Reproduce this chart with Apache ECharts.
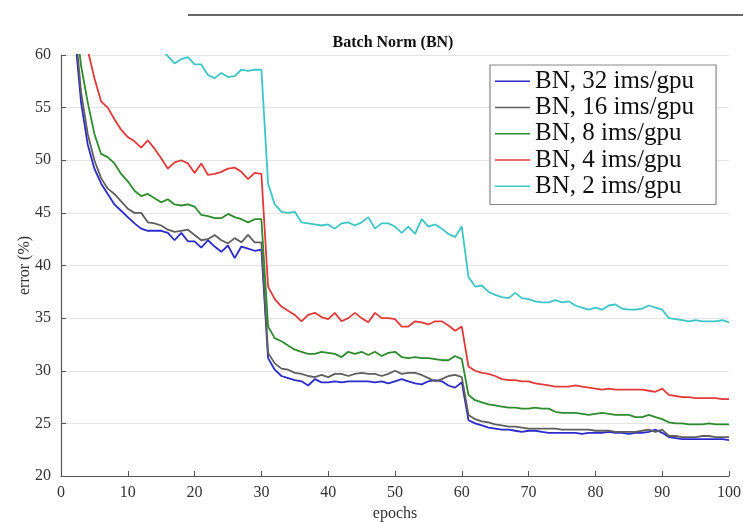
<!DOCTYPE html>
<html>
<head>
<meta charset="utf-8">
<script src="https://cdn.jsdelivr.net/npm/echarts@6/dist/echarts.min.js"></script>
<style>html,body{margin:0;padding:0;background:#fff}#c{width:743px;height:522px}</style>
</head>
<body>
<div id="c"></div>
<script>
var epochs = [1,2,3,4,5,6,7,8,9,10,11,12,13,14,15,16,17,18,19,20,21,22,23,24,25,26,27,28,29,30,
31,32,33,34,35,36,37,38,39,40,41,42,43,44,45,46,47,48,49,50,51,52,53,54,55,56,57,58,59,60,
61,62,63,64,65,66,67,68,69,70,71,72,73,74,75,76,77,78,79,80,81,82,83,84,85,86,87,88,89,90,
91,92,93,94,95,96,97,98,99,100];

var seriesNames = ['BN, 32 ims/gpu','BN, 16 ims/gpu','BN, 8 ims/gpu','BN, 4 ims/gpu','BN, 2 ims/gpu'];

var bn32 = [75,62.5,55.5,51.5,49.2,47.8,46.8,45.8,45.2,44.6, 44.0,43.5,43.3,43.3,43.3,43.1,42.4,43.1,42.3,42.3,
41.7,42.4,41.8,41.3,41.9,40.7,41.8,41.6,41.4,41.5,
31.2,30.1,29.5,29.3,29.1,29.0,28.6,29.2,28.9,28.9, 29.0,28.9,29.0,29.0,29.0,29.0,28.9,29.0,28.8,29.0,
29.2,29.0,28.8,28.7,29.0,29.1,29.0,28.6,28.4,28.9,
25.3,25.0,24.8,24.6,24.5,24.4,24.4,24.3,24.2,24.3, 24.3,24.2,24.1,24.1,24.1,24.1,24.1,24.0,24.1,24.1,
24.1,24.2,24.1,24.1,24.0,24.1,24.1,24.2,24.4,24.1, 23.7,23.6,23.5,23.5,23.5,23.5,23.5,23.5,23.5,23.4];

var bn16 = [76,63.5,56.5,52.5,50.0,48.3,47.3,46.8,46.1,45.4, 45.0,45.0,44.1,44.0,43.8,43.4,43.2,43.3,43.4,42.9,
42.4,42.5,42.9,42.4,42.1,42.6,42.2,42.9,42.2,42.2,
31.7,30.7,30.2,30.1,29.8,29.7,29.5,29.4,29.6,29.4, 29.7,29.7,29.5,29.7,29.8,29.7,29.7,29.5,29.7,30.0,
29.7,29.8,29.8,29.6,29.3,29.0,29.2,29.5,29.6,29.4,
25.8,25.4,25.2,25.1,24.9,24.8,24.7,24.7,24.6,24.5, 24.5,24.5,24.5,24.5,24.4,24.4,24.4,24.4,24.4,24.3,
24.3,24.3,24.2,24.2,24.2,24.2,24.3,24.4,24.2,24.4, 23.8,23.8,23.7,23.7,23.7,23.8,23.8,23.7,23.7,23.7];

var bn8 = [78,64.5,59.0,55.5,52.5,50.6,50.3,49.7,48.7,48.0, 47.1,46.6,46.8,46.4,46.0,46.3,45.8,45.7,45.8,45.6,
44.8,44.7,44.5,44.5,44.9,44.6,44.4,44.1,44.4,44.4,
34.2,33.1,32.8,32.4,32.0,31.8,31.6,31.6,31.8,31.7, 31.6,31.3,31.8,31.6,31.8,31.5,31.8,31.4,31.7,31.8,
31.3,31.2,31.3,31.2,31.2,31.1,31.0,31.0,31.4,31.1,
27.7,27.2,27.0,26.8,26.7,26.6,26.5,26.5,26.4,26.4, 26.5,26.4,26.4,26.1,26.0,26.0,26.0,25.9,25.8,25.9,
26.0,25.9,25.8,25.8,25.8,25.6,25.6,25.8,25.6,25.4, 25.1,25.0,25.0,24.9,24.9,24.9,25.0,24.9,24.9,24.9];

var bn4 = [80,70,64,60.5,57.8,55.6,55.0,53.9,52.9,52.2, 51.8,51.2,51.9,51.1,50.2,49.2,49.8,50.0,49.7,48.8,
49.7,48.6,48.7,48.9,49.2,49.3,48.9,48.2,48.8,48.7,
38.0,36.8,36.1,35.7,35.3,34.7,35.3,35.5,35.1,34.9, 35.5,34.7,35.0,35.5,35.0,34.6,35.5,35.0,35.0,34.9,
34.2,34.2,34.7,34.6,34.4,34.7,34.7,34.3,33.8,34.2,
30.4,30.0,29.8,29.7,29.5,29.2,29.1,29.1,29.0,29.0, 28.8,28.7,28.6,28.5,28.5,28.5,28.6,28.5,28.4,28.3,
28.2,28.3,28.2,28.2,28.2,28.2,28.2,28.1,28.0,28.3, 27.7,27.6,27.5,27.5,27.4,27.4,27.4,27.4,27.3,27.3];

var bn2 = [90,80,74,70,67.5,66,65,64,63.3,62.7, 62.2,61.8,61.3,60.9,60.5,59.9,59.2,59.6,59.8,59.1,
59.1,58.1,57.8,58.3,57.9,58.0,58.6,58.5,58.6,58.6,
47.8,45.8,45.1,45.0,45.1,44.1,44.0,43.9,43.8,43.9, 43.5,44.0,44.1,43.8,44.1,44.6,43.5,44.0,44.0,43.7,
43.1,43.7,43.0,44.4,43.7,43.9,43.5,43.0,42.7,43.7,
38.9,38.0,38.1,37.5,37.2,37.0,36.9,37.4,36.9,36.8, 36.6,36.5,36.5,36.7,36.5,36.6,36.2,36.0,35.8,36.0,
35.8,36.2,36.3,35.9,35.8,35.8,35.9,36.2,36.0,35.8, 35.0,34.9,34.8,34.7,34.8,34.7,34.7,34.7,34.8,34.6];

var xTicks = [0,10,20,30,40,50,60,70,80,90,100];
var yTicks = [20,25,30,35,40,45,50,55,60];

var colors = ['#2b2bcc','#5f5f5f','#2e8b2e','#e23a3a','#3cc6c6'];
var allValues = [bn32, bn16, bn8, bn4, bn2];

function pairs(vals) {
  return epochs.map(function (e, i) { return [e, vals[i]]; });
}

var serif = 'Liberation Serif, Times New Roman, serif';
var chart = echarts.init(document.getElementById('c'), null, {renderer: 'canvas'});
chart.setOption({
  animation: false,
  backgroundColor: '#fff',
  title: {
    text: 'Batch Norm (BN)',
    left: 388, top: 30, textAlign: 'center',
    textStyle: {fontFamily: serif, fontWeight: 'bold', fontSize: 16, color: '#111'}
  },
  graphic: [{
    type: 'line', shape: {x1: 188, y1: 15, x2: 743, y2: 15},
    style: {stroke: '#333', lineWidth: 1.3}
  }],
  grid: {left: 61, right: 14, top: 55, bottom: 46, containLabel: false, outerBoundsMode: 'none'},
  legend: {
    orient: 'vertical', left: 490, top: 65,
    data: seriesNames,
    icon: 'rect', itemWidth: 35, itemHeight: 1.5, itemGap: 0,
    padding: [3, 22, 5, 5],
    backgroundColor: '#fff', borderColor: '#888', borderWidth: 1.2,
    textStyle: {fontFamily: serif, fontSize: 25, color: '#111', lineHeight: 26.3, padding: [0,0,0,0]}
  },
  xAxis: {
    type: 'value', min: 0, max: 100, interval: 10,
    name: 'epochs', nameLocation: 'middle', nameGap: 29,
    nameTextStyle: {fontFamily: serif, fontSize: 16, color: '#333'},
    axisLine: {lineStyle: {color: '#555', width: 1.2}},
    axisTick: {inside: true, length: 5, lineStyle: {color: '#555'}},
    axisLabel: {fontFamily: serif, fontSize: 16, color: '#333', margin: 9,
      formatter: function (v) { return xTicks.indexOf(v) >= 0 ? String(v) : ''; }},
    splitLine: {show: false}
  },
  yAxis: {
    type: 'value', min: 20, max: 60, interval: 5,
    name: 'error (%)', nameLocation: 'middle', nameGap: 28, nameRotate: 90,
    nameMoveOverlap: false,
    nameTextStyle: {fontFamily: serif, fontSize: 16, color: '#333'},
    axisLine: {show: true, lineStyle: {color: '#555', width: 1.2}},
    axisTick: {show: true, inside: true, length: 5, lineStyle: {color: '#555'}},
    axisLabel: {fontFamily: serif, fontSize: 16, color: '#333', margin: 10,
      formatter: function (v) { return yTicks.indexOf(v) >= 0 ? String(v) : ''; }},
    splitLine: {show: true, lineStyle: {color: '#e4e4e4', width: 1}}
  },
  series: seriesNames.map(function (n, i) {
    return {
      name: n, type: 'line', data: pairs(allValues[i]),
      showSymbol: false, symbol: 'none', clip: true,
      lineStyle: {color: colors[i], width: 1.8},
      itemStyle: {color: colors[i]}
    };
  })
});
</script>
</body>
</html>
